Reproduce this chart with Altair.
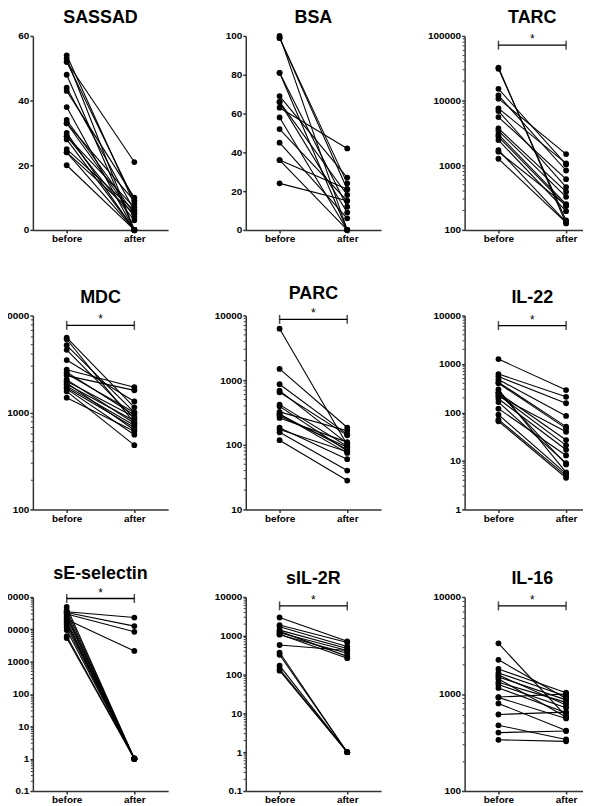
import altair as alt
import pandas as pd

# ---------------- data ----------------
sassad_before = [54, 53, 52, 52, 48, 44, 43, 38, 34, 33, 33, 30, 29, 29, 28, 25, 24, 24, 20]
sassad_after = [8, 0, 21, 9, 0, 6, 10, 0, 5, 9, 4, 0, 3, 7, 0, 6, 0, 5, 0]

bsa_before = [100, 99, 99, 81, 81, 69, 66, 66, 63, 58, 52, 45, 36, 36, 24]
bsa_after = [0, 21, 24, 0, 12, 27, 18, 9, 42, 0, 15, 6, 0, 21, 15]

tarc_before = [32400, 31000, 15200, 12000, 10700, 7600, 6900, 5560, 3700, 3400, 3000, 2760, 2450, 1720, 1620, 1260]
tarc_after = [126, 140, 1030, 830, 1490, 1070, 460, 610, 390, 325, 250, 235, 195, 132, 240, 130]

mdc_before = [5910, 5690, 4930, 4420, 3470, 2760, 2600, 2500, 2400, 2180, 2100, 2020, 1950, 1870, 1800, 1750, 1650, 1420]
mdc_after = [1130, 780, 1000, 870, 1300, 1820, 940, 1000, 1690, 775, 900, 660, 820, 740, 700, 590, 460, 640]

parc_before = [6250, 1490, 865, 690, 650, 418, 393, 323, 300, 297, 280, 260, 184, 173, 156, 118]
parc_after = [100, 185, 145, 105, 140, 95, 80, 165, 75, 85, 92, 110, 60, 78, 40, 28]

il22_before = [1260, 620, 550, 477, 420, 400, 300, 260, 254, 230, 217, 192, 164, 120, 90, 71, 66]
il22_after = [290, 210, 155, 85, 51, 47, 5.8, 8.5, 27, 21, 40, 17, 9, 13, 5.5, 5, 4.5]

sesel_before = [49300, 39000, 35000, 33000, 31000, 30000, 26000, 23200, 20000, 18400, 16000, 14500, 12000, 9500, 6200, 5400]
sesel_after = [1, 1, 23200, 12600, 1, 8400, 1, 1, 2150, 1, 1, 1, 1, 1, 1, 1]

sil2r_before = [2960, 1890, 1710, 1400, 1300, 1200, 1100, 1070, 580, 370, 325, 170, 139, 126]
sil2r_after = [720, 670, 530, 470, 295, 420, 265, 355, 420, 1, 1, 1, 1, 1]

il16_before = [3330, 2250, 1810, 1650, 1570, 1500, 1430, 1320, 1250, 1155, 930, 920, 800, 615, 476, 400, 337]
il16_after = [590, 900, 1030, 950, 770, 870, 580, 820, 720, 640, 1000, 560, 420, 650, 340, 415, 325]

titles = ["SASSAD", "BSA", "TARC", "MDC", "PARC", "IL-22", "sE-selectin", "sIL-2R", "IL-16"]
y_domains = [[0, 60], [0, 100], [100, 100000], [100, 10000], [10, 10000], [1, 10000],
             [0.1, 100000], [0.1, 10000], [100, 10000]]
y_ticks = [[0, 20, 40, 60], [0, 20, 40, 60, 80, 100], [100, 1000, 10000, 100000],
           [100, 1000, 10000], [10, 100, 1000, 10000], [1, 10, 100, 1000, 10000],
           [0.1, 1, 10, 100, 1000, 10000, 100000], [0.1, 1, 10, 100, 1000, 10000],
           [100, 1000, 10000]]
log_scale = [False, False, True, True, True, True, True, True, True]
# y value of the significance bracket (None = no bracket)
bracket_y = [None, None, 72000, 7900, 8700, 6200, 90000, 5900, 8100]
star_text = "*"
time_labels = ["before", "after"]

befores = [sassad_before, bsa_before, tarc_before, mdc_before, parc_before,
           il22_before, sesel_before, sil2r_before, il16_before]
afters = [sassad_after, bsa_after, tarc_after, mdc_after, parc_after,
          il22_after, sesel_after, sil2r_after, il16_after]

# ---------------- styling ----------------
W = 136
H = 195
AX = "#333333"
FONT = "Liberation Sans"


def panel(i):
    before, after = befores[i], afters[i]
    n = len(before)
    df = pd.DataFrame({
        "subject": list(range(n)) * 2,
        "time": [time_labels[0]] * n + [time_labels[1]] * n,
        "value": before + after,
    })
    lo, hi = y_domains[i]
    if log_scale[i]:
        yscale = alt.Scale(type="log", domain=[lo, hi], nice=False)
    else:
        yscale = alt.Scale(domain=[lo, hi], nice=False, zero=False)
    xscale = alt.Scale(domain=[0.5, 2.5], nice=False, zero=False)
    xaxis = alt.Axis(values=[1, 2], title=None, grid=False,
                     labelExpr="datum.value == 1 ? '%s' : '%s'" % tuple(time_labels),
                     tickSize=3, labelPadding=1, labelAngle=0)
    yaxis = alt.Axis(values=y_ticks[i], format="~f", title=None, grid=False,
                     tickSize=3, labelPadding=1)

    base = alt.Chart(df).transform_calculate(
        t="datum.time == '%s' ? 1 : 2" % time_labels[0])
    x = alt.X("t:Q", scale=xscale, axis=xaxis)
    y = alt.Y("value:Q", scale=yscale, axis=yaxis)

    lines = base.mark_line(color="black", strokeWidth=1.1).encode(
        x=x, y=y, detail="subject:N", order="t:Q")
    pts = base.mark_circle(color="black", size=34, opacity=1).encode(x=x, y=y)
    layers = [lines, pts]

    if log_scale[i]:
        minors = []
        e = lo
        while e < hi:
            for k in range(2, 10):
                v = e * k
                if v < hi:
                    minors.append(v)
            e = e * 10
        mdf = pd.DataFrame({"value": minors})
        layers.append(
            alt.Chart(mdf).mark_rule(color=AX, strokeWidth=1).encode(
                y=alt.Y("value:Q", scale=yscale, axis=yaxis),
                x=alt.value(-2), x2=alt.value(0)))

    if bracket_y[i] is not None:
        bdf = pd.DataFrame({"t": [1], "t2": [2], "tm": [1.5], "value": [bracket_y[i]], "s": [star_text]})
        cdf = pd.DataFrame({"t": [1, 2], "value": [bracket_y[i]] * 2})
        by = alt.Y("value:Q", scale=yscale, axis=yaxis)
        layers.append(alt.Chart(bdf).mark_rule(color="black", strokeWidth=1.3).encode(
            x=alt.X("t:Q", scale=xscale, axis=xaxis), x2="t2:Q", y=by))
        layers.append(alt.Chart(cdf).mark_tick(color="black", orient="vertical", size=9,
                                               thickness=1.5).encode(
            x=alt.X("t:Q", scale=xscale, axis=xaxis), y=by))
        layers.append(alt.Chart(bdf).mark_text(color="black", fontSize=12, font=FONT,
                                               baseline="middle", dy=-6).encode(
            x=alt.X("tm:Q", scale=xscale, axis=xaxis), y=by, text="s:N"))

    return alt.layer(*layers).properties(
        width=W, height=H,
        title=alt.TitleParams(titles[i], fontSize=18, font=FONT, fontWeight="bold",
                              anchor="middle", color="black", offset=4))


chart = alt.concat(*[panel(i) for i in range(9)], columns=3,
                   spacing={"row": 41, "column": 46}).properties(
    padding={"left": -13, "top": -1, "right": -17, "bottom": 0}
).configure_view(stroke=None).configure_axis(
    domainColor=AX, domainWidth=1.5, tickColor=AX, tickWidth=1.5,
    labelFont=FONT, labelFontWeight="bold", labelFontSize=10, labelColor="black"
)

chart.save("out.html", embed_options={"renderer": "svg", "actions": False})
